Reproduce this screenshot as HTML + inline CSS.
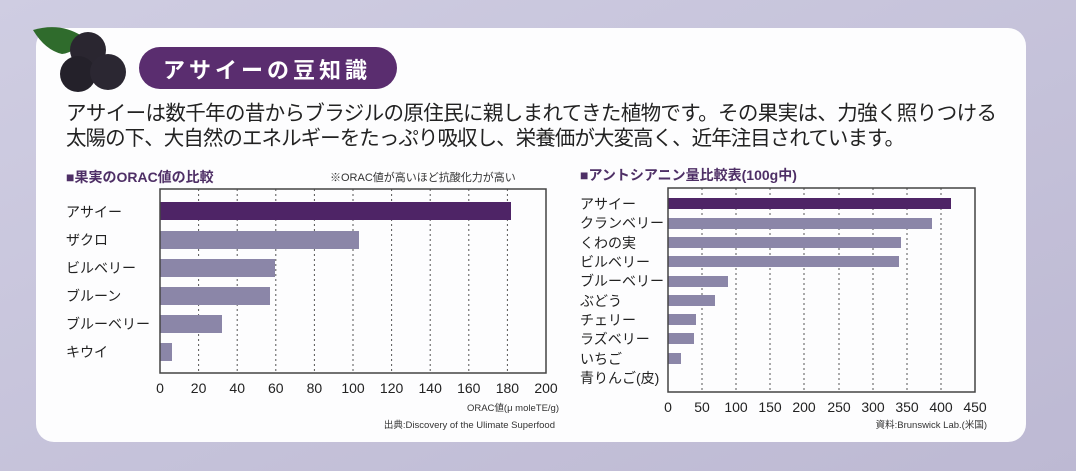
<!DOCTYPE html>
<html><head><meta charset="utf-8"><style>
html,body{margin:0;padding:0;width:1076px;height:471px;overflow:hidden;background:#c8c6dc}
svg text{font-family:"Liberation Sans","Noto Sans CJK JP",sans-serif}
</style></head><body>
<svg width="1076" height="471" viewBox="0 0 1076 471" xmlns="http://www.w3.org/2000/svg">
<defs><linearGradient id="bg" x1="0" y1="0" x2="1" y2="1"><stop offset="0" stop-color="#cfcde2"/><stop offset="1" stop-color="#bdb9d3"/></linearGradient></defs>
<rect width="1076" height="471" fill="url(#bg)"/>
<rect x="36" y="28" width="990" height="414" rx="18" fill="#fdfdfe"/>
<!-- berries -->
<path d="M33 30 Q60 22 82 36 Q78 52 62 54 Q45 50 33 30Z" fill="#2f6b2c"/>
<circle cx="88" cy="50" r="18" fill="#2a2630"/>
<circle cx="78" cy="74" r="18" fill="#24212a"/>
<circle cx="108" cy="72" r="18" fill="#2b2732"/>
<rect x="139" y="47" width="258" height="42" rx="21" fill="#5a2d6f"/>
<text x="163" y="78" font-size="22" font-weight="bold" fill="#fff" letter-spacing="4">アサイーの豆知識</text>
<text x="66" y="120" font-size="20.5" fill="#222" textLength="931">アサイーは数千年の昔からブラジルの原住民に親しまれてきた植物です。その果実は、力強く照りつける</text>
<text x="66" y="145" font-size="20.5" fill="#222" textLength="839">太陽の下、大自然のエネルギーをたっぷり吸収し、栄養価が大変高く、近年注目されています。</text>
<!-- left chart -->
<text x="66" y="182" font-size="14" font-weight="bold" fill="#4e2f66">■果実のORAC値の比較</text>
<text x="330" y="181" font-size="11" fill="#333">※ORAC値が高いほど抗酸化力が高い</text>
<g stroke="#555" stroke-width="1" stroke-dasharray="2,3">
<line x1="198.6" y1="189" x2="198.6" y2="373"/><line x1="237.2" y1="189" x2="237.2" y2="373"/><line x1="275.8" y1="189" x2="275.8" y2="373"/><line x1="314.4" y1="189" x2="314.4" y2="373"/><line x1="353" y1="189" x2="353" y2="373"/><line x1="391.6" y1="189" x2="391.6" y2="373"/><line x1="430.2" y1="189" x2="430.2" y2="373"/><line x1="468.8" y1="189" x2="468.8" y2="373"/><line x1="507.4" y1="189" x2="507.4" y2="373"/>
</g>
<rect x="160" y="202" width="351" height="18" fill="#4e2466"/>
<g fill="#8b86a8">
<rect x="160" y="231" width="199" height="18"/><rect x="160" y="259" width="115" height="18"/><rect x="160" y="287" width="110" height="18"/><rect x="160" y="315" width="62" height="18"/><rect x="160" y="343" width="12" height="18"/>
</g>
<rect x="160" y="189" width="386" height="184" fill="none" stroke="#444" stroke-width="1.5"/>
<g font-size="14" fill="#222">
<text x="66" y="217">アサイー</text><text x="66" y="245">ザクロ</text><text x="66" y="273">ビルベリー</text><text x="66" y="301">ブルーン</text><text x="66" y="329">ブルーベリー</text><text x="66" y="357">キウイ</text>
</g>
<g font-size="14" fill="#222" text-anchor="middle">
<text x="160" y="393">0</text><text x="198.6" y="393">20</text><text x="237.2" y="393">40</text><text x="275.8" y="393">60</text><text x="314.4" y="393">80</text><text x="353" y="393">100</text><text x="391.6" y="393">120</text><text x="430.2" y="393">140</text><text x="468.8" y="393">160</text><text x="507.4" y="393">180</text><text x="546" y="393">200</text>
</g>
<text x="559" y="411" font-size="9.5" fill="#333" text-anchor="end">ORAC値(μ moleTE/g)</text>
<text x="555" y="428" font-size="9.5" fill="#333" text-anchor="end">出典:Discovery of the Ulimate Superfood</text>
<!-- right chart -->
<text x="580" y="180" font-size="14" font-weight="bold" fill="#4e2f66">■アントシアニン量比較表(100g中)</text>
<g stroke="#555" stroke-width="1" stroke-dasharray="2,3">
<line x1="702" y1="188" x2="702" y2="392"/><line x1="736" y1="188" x2="736" y2="392"/><line x1="770" y1="188" x2="770" y2="392"/><line x1="804" y1="188" x2="804" y2="392"/><line x1="839" y1="188" x2="839" y2="392"/><line x1="873" y1="188" x2="873" y2="392"/><line x1="907" y1="188" x2="907" y2="392"/><line x1="941" y1="188" x2="941" y2="392"/>
</g>
<rect x="668" y="198" width="283" height="11" fill="#4e2466"/>
<g fill="#8b86a8">
<rect x="668" y="218" width="264" height="11"/><rect x="668" y="237" width="233" height="11"/><rect x="668" y="256" width="231" height="11"/><rect x="668" y="276" width="60" height="11"/><rect x="668" y="295" width="47" height="11"/><rect x="668" y="314" width="28" height="11"/><rect x="668" y="333" width="26" height="11"/><rect x="668" y="353" width="13" height="11"/>
</g>
<rect x="668" y="188" width="307" height="204" fill="none" stroke="#444" stroke-width="1.5"/>
<g font-size="14" fill="#222">
<text x="580" y="209">アサイー</text><text x="580" y="228">クランベリー</text><text x="580" y="248">くわの実</text><text x="580" y="267">ビルベリー</text><text x="580" y="286">ブルーベリー</text><text x="580" y="306">ぶどう</text><text x="580" y="325">チェリー</text><text x="580" y="344">ラズベリー</text><text x="580" y="364">いちご</text><text x="580" y="383">青りんご(皮)</text>
</g>
<g font-size="14" fill="#222" text-anchor="middle">
<text x="668" y="412">0</text><text x="702" y="412">50</text><text x="736" y="412">100</text><text x="770" y="412">150</text><text x="804" y="412">200</text><text x="839" y="412">250</text><text x="873" y="412">300</text><text x="907" y="412">350</text><text x="941" y="412">400</text><text x="975" y="412">450</text>
</g>
<text x="987" y="428" font-size="9.5" fill="#333" text-anchor="end">資料:Brunswick Lab.(米国)</text>
</svg>
</body></html>
